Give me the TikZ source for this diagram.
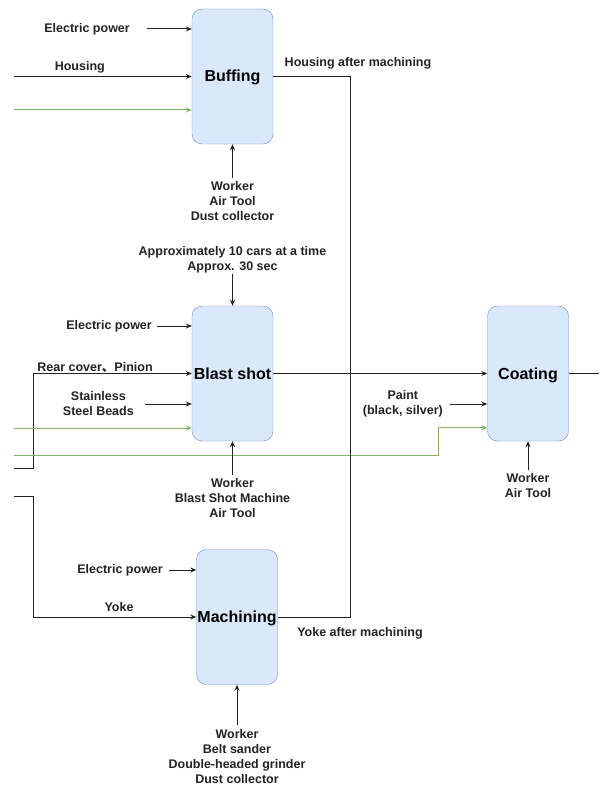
\documentclass[tikz,border=0pt]{standalone}
\usepackage{fontspec}
\setmainfont{Liberation Sans}
\newfontfamily\cjkfont{Noto Sans CJK SC}
\usepackage{xcolor}
\definecolor{FillBlue}{HTML}{DAE8FC}
\definecolor{BorderBlue}{HTML}{6C8EBF}
\definecolor{LineGreen}{HTML}{82B366}
\definecolor{LineGray}{HTML}{222222}
\usetikzlibrary{arrows.meta, positioning, calc}
\tikzset{
  % Process box
  proc/.style={
    rectangle, rounded corners=10pt,
    draw=BorderBlue, fill=FillBlue,
    minimum width=81pt, minimum height=135pt,
    font=\fontsize{16}{19}\selectfont\bfseries,
    text height=12pt, text depth=1pt,
    inner sep=0pt
  },
  % Plain text label
  lbl/.style={font=\fontsize{12.5}{15}\selectfont\bfseries, text=LineGray, align=center, inner sep=0pt},
  % Arrows and lines
  arr/.style={-{Stealth[length=6pt,width=5pt]}, line width=1pt, LineGray},
  garr/.style={arr, LineGreen},
  flow/.style={line width=1pt, LineGray},
}

\begin{document}
\begin{tikzpicture}[x=1pt, y=-1pt]
  \useasboundingbox (0,0) rectangle (599,791);

  %% Process boxes
  \node[proc] (buff)  at (232.5,76.5)  {Buffing};
  \node[proc] (blast) at (232.5,373.5) {Blast shot};
  \node[proc] (mach)  at (237,617)     {Machining};
  \node[proc] (coat)  at (528,373.5)   {Coating};

  %% Buffing inputs
  \coordinate (b-ep) at (147,29);
  \node[lbl, left=17pt of b-ep] (b-ep-t) {Electric power};
  \draw[arr] (b-ep) -- (b-ep -| buff.west);

  \coordinate (b-in) at (14,76.5);
  \draw[arr] (b-in) -- node[lbl, above=3pt, pos=0.37] (b-in-t) {Housing} (buff.west);

  \coordinate (b-g) at (14,110);
  \draw[garr] (b-g) -- (b-g -| buff.west);

  \coordinate (b-w) at (232.5,178);
  \node[lbl, below=3.5pt of b-w] (b-w-t) {Worker\\Air Tool\\Dust collector};
  \draw[arr] (b-w) -- (buff.south);

  %% Blast shot inputs
  \coordinate (s-top) at (232.5,274);
  \node[lbl, above=1pt of s-top] (s-top-t) {Approximately 10 cars at a time\\Approx. 30 sec};
  \draw[arr] (s-top) -- (blast.north);

  \coordinate (s-ep) at (157,326);
  \node[lbl, left=5pt of s-ep] (s-ep-t) {Electric power};
  \draw[arr] (s-ep) -- (s-ep -| blast.west);

  \coordinate (s-in) at (14,468);
  \coordinate (s-bend) at (33,468);
  \node[lbl] (s-in-t) at (95,367) {Rear cover{\cjkfont 、}Pinion};
  \draw[arr] (s-in) -- (s-bend) |- (blast.west);

  \coordinate (s-bd) at (145,404);
  \node[lbl, left=11pt of s-bd] (s-bd-t) {Stainless\\Steel Beads};
  \draw[arr] (s-bd) -- (s-bd -| blast.west);

  \coordinate (s-g) at (14,428);
  \draw[garr] (s-g) -- (s-g -| blast.west);

  \coordinate (s-g2) at (14,455);
  \coordinate (g-bend) at (438,455);
  \draw[garr] (s-g2) -- (g-bend) |- ([yshift=13.5pt]coat.south west);

  \coordinate (s-w) at (232.5,475);
  \node[lbl, below=3.5pt of s-w] (s-w-t) {Worker\\Blast Shot Machine\\Air Tool};
  \draw[arr] (s-w) -- (blast.south);

  %% Blast shot -> Coating
  \draw[arr] (blast.east) -- (coat.west);

  %% Coating inputs / output
  \coordinate (c-pt) at (450,404);
  \node[lbl, left=7pt of c-pt] (c-pt-t) {Paint\\(black, silver)};
  \draw[arr] (c-pt) -- (c-pt -| coat.west);

  \coordinate (c-w) at (528,470);
  \node[lbl, below=3.5pt of c-w] (c-w-t) {Worker\\Air Tool};
  \draw[arr] (c-w) -- (coat.south);

  \coordinate (c-out) at (599,373.5);
  \draw[flow] (coat.east) -- (c-out);

  %% Machining inputs
  \coordinate (m-ep) at (169,570);
  \node[lbl, left=6pt of m-ep] (m-ep-t) {Electric power};
  \draw[arr] (m-ep) -- (m-ep -| mach.west);

  \coordinate (m-in) at (14,496);
  \coordinate (m-bend) at (33,496);
  \node[lbl] (m-in-t) at (119,607) {Yoke};
  \draw[arr] (m-in) -- (m-bend) |- (mach.west);

  \coordinate (m-w) at (237,725);
  \node[lbl, below=4pt of m-w] (m-w-t) {Worker\\Belt sander\\Double-headed grinder\\Dust collector};
  \draw[arr] (m-w) -- (mach.south);

  %% Outputs of Buffing and Machining
  \coordinate (rail) at (350,0);
  \draw[flow] (buff.east) -| (rail |- mach.east) -- (mach.east);
  \node[lbl] (h-out) at (358,63)  {Housing after machining};
  \node[lbl] (y-out) at (360,633) {Yoke after machining};

\end{tikzpicture}
\end{document}
